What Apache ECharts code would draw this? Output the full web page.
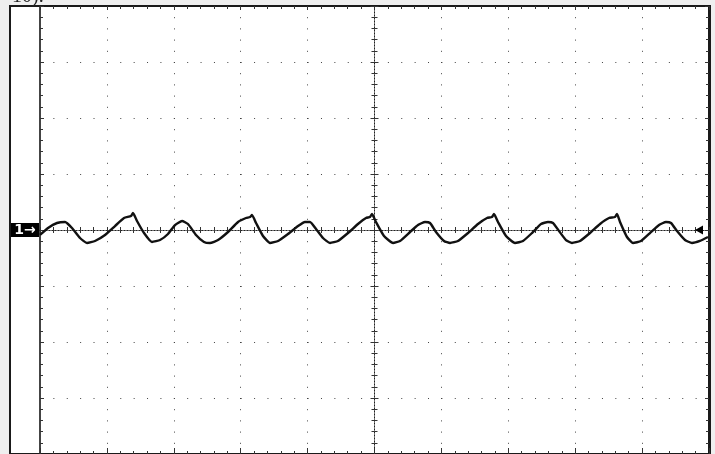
<!DOCTYPE html>
<html>
<head>
<meta charset="utf-8">
<script src="https://cdn.jsdelivr.net/npm/echarts@6/dist/echarts.min.js"></script>
<style>
html,body{margin:0;padding:0;background:#efefef;}
#chart{width:715px;height:454px;}
</style>
</head>
<body>
<div id="chart"></div>
<script>
// Time in divisions (0..10) and voltage in divisions (-4..4)
const timeDiv = [0.000,0.120,0.254,0.374,0.478,0.598,0.703,0.822,0.972,1.121,1.256,1.360,1.390,1.450,1.555,1.674,1.794,1.913,2.018,2.123,2.212,2.332,2.451,2.541,2.661,2.810,2.960,3.079,3.139,3.169,3.229,3.333,3.438,3.558,3.707,3.857,3.961,4.036,4.126,4.230,4.335,4.454,4.604,4.753,4.873,4.933,4.963,5.022,5.142,5.277,5.381,5.531,5.650,5.755,5.830,5.919,6.039,6.129,6.248,6.398,6.547,6.682,6.756,6.786,6.846,6.966,7.100,7.220,7.354,7.489,7.593,7.668,7.758,7.862,7.952,8.072,8.221,8.371,8.505,8.595,8.625,8.670,8.774,8.864,8.984,9.118,9.253,9.357,9.432,9.522,9.641,9.746,9.865,9.985];
const voltDiv = [-0.089,0.036,0.125,0.143,0.036,-0.143,-0.232,-0.196,-0.089,0.071,0.214,0.250,0.304,0.161,-0.054,-0.214,-0.179,-0.071,0.089,0.161,0.107,-0.089,-0.214,-0.232,-0.179,-0.036,0.143,0.214,0.232,0.268,0.125,-0.107,-0.232,-0.196,-0.071,0.071,0.143,0.143,0.018,-0.143,-0.232,-0.196,-0.054,0.107,0.214,0.232,0.286,0.143,-0.107,-0.232,-0.196,-0.036,0.089,0.143,0.125,-0.036,-0.196,-0.232,-0.196,-0.054,0.107,0.214,0.232,0.286,0.143,-0.107,-0.232,-0.196,-0.054,0.107,0.143,0.125,-0.018,-0.179,-0.232,-0.196,-0.054,0.107,0.214,0.232,0.286,0.143,-0.125,-0.232,-0.196,-0.054,0.089,0.143,0.125,-0.018,-0.179,-0.232,-0.196,-0.125];
const xRange = [0, 10];       // horizontal divisions
const yRange = [-4, 4];       // vertical divisions
const centerXRange = [-5, 5]; // same span, centred so the crosshair sits on zero
const groundLevel = 0;        // channel 1 reference level
const triggerLevel = 0;       // trigger marker level
const channelLabel = '1\u2192';
const captionText = '10).';

const traceData = timeDiv.map((t, i) => [t, voltDiv[i]]);

const chart = echarts.init(document.getElementById('chart'), null, {renderer: 'canvas'});
const plotRect = {left: 40, top: 6, width: 669, height: 448};
const dark = '#1a1a1a';
const tickStyle = {color: '#333', width: 1};
const hiddenAxis = (gi, range) => ({gridIndex: gi, show: false, min: range[0], max: range[1], axisLine: {onZero: false}});

const option = {
  animation: false,
  backgroundColor: '#efefef',
  graphic: [{
    type: 'text', x: 12, y: -3, silent: true,
    style: {text: captionText, fontSize: 20, fontFamily: '"Liberation Serif", serif', fill: '#222', verticalAlign: 'middle', align: 'left'}
  }],
  grid: [
    {left: 10, top: 6, right: 5, bottom: 0, show: true, backgroundColor: '#ffffff', borderColor: dark, borderWidth: 2, z: -1},
    Object.assign({}, plotRect),
    Object.assign({}, plotRect),
    Object.assign({}, plotRect),
    Object.assign({}, plotRect),
    Object.assign({}, plotRect)
  ],
  xAxis: [
    hiddenAxis(0, [0, 1]),
    {
      gridIndex: 1, type: 'value', position: 'bottom', min: xRange[0], max: xRange[1], interval: 1,
      axisLine: {show: true, onZero: false, lineStyle: {color: dark, width: 2}},
      axisTick: {show: true, inside: true, length: 6, lineStyle: tickStyle},
      minorTick: {show: true, splitNumber: 5, length: 3, lineStyle: tickStyle},
      axisLabel: {show: false},
      splitLine: {show: true, lineStyle: {color: '#444', width: 1, type: [1, 10.2]}}
    },
    {
      gridIndex: 1, type: 'value', position: 'top', min: xRange[0], max: xRange[1], interval: 1,
      axisLine: {show: true, onZero: false, lineStyle: {color: dark, width: 2}},
      axisTick: {show: true, inside: true, length: 4, lineStyle: tickStyle},
      minorTick: {show: true, splitNumber: 5, length: 3, lineStyle: tickStyle},
      axisLabel: {show: false},
      splitLine: {show: false}
    },
    hiddenAxis(2, centerXRange),
    hiddenAxis(3, centerXRange),
    {
      gridIndex: 4, type: 'value', position: 'bottom', min: xRange[0], max: xRange[1], interval: 1,
      axisLine: {show: true, onZero: true, lineStyle: {color: '#222', width: 1, type: [1, 2]}},
      axisTick: {show: true, inside: false, length: 3, lineStyle: tickStyle},
      minorTick: {show: true, splitNumber: 5, length: 3, lineStyle: tickStyle},
      axisLabel: {show: false}, splitLine: {show: false}
    },
    {
      gridIndex: 5, type: 'value', position: 'top', min: xRange[0], max: xRange[1], interval: 1,
      axisLine: {show: true, onZero: true, lineStyle: {color: '#222', width: 1, type: [1, 2]}},
      axisTick: {show: true, inside: false, length: 3, lineStyle: tickStyle},
      minorTick: {show: true, splitNumber: 5, length: 3, lineStyle: tickStyle},
      axisLabel: {show: false}, splitLine: {show: false}
    }
  ],
  yAxis: [
    hiddenAxis(0, [0, 1]),
    {
      gridIndex: 1, type: 'value', position: 'left', min: yRange[0], max: yRange[1], interval: 1,
      axisLine: {show: true, onZero: false, lineStyle: {color: '#444', width: 2}},
      axisTick: {show: true, inside: true, length: 4, lineStyle: tickStyle},
      minorTick: {show: true, splitNumber: 5, length: 3, lineStyle: tickStyle},
      axisLabel: {show: false},
      splitLine: {show: true, lineStyle: {color: '#444', width: 1, type: [1, 12.38]}}
    },
    {
      gridIndex: 1, type: 'value', position: 'right', min: yRange[0], max: yRange[1], interval: 1,
      axisLine: {show: true, onZero: false, lineStyle: {color: dark, width: 2}},
      axisTick: {show: true, inside: true, length: 4, lineStyle: tickStyle},
      minorTick: {show: true, splitNumber: 5, length: 3, lineStyle: tickStyle},
      axisLabel: {show: false}, splitLine: {show: false}
    },
    {
      gridIndex: 2, type: 'value', position: 'left', min: yRange[0], max: yRange[1], interval: 1,
      axisLine: {show: true, onZero: true, lineStyle: {color: '#222', width: 1, type: [1, 2]}},
      axisTick: {show: true, inside: false, length: 4, lineStyle: tickStyle},
      minorTick: {show: true, splitNumber: 5, length: 3, lineStyle: tickStyle},
      axisLabel: {show: false}, splitLine: {show: false}
    },
    {
      gridIndex: 3, type: 'value', position: 'right', min: yRange[0], max: yRange[1], interval: 1,
      axisLine: {show: true, onZero: true, lineStyle: {color: '#222', width: 1, type: [1, 2]}},
      axisTick: {show: true, inside: false, length: 4, lineStyle: tickStyle},
      minorTick: {show: true, splitNumber: 5, length: 3, lineStyle: tickStyle},
      axisLabel: {show: false}, splitLine: {show: false}
    },
    hiddenAxis(4, yRange),
    hiddenAxis(5, yRange)
  ],
  series: [{
    type: 'line',
    xAxisIndex: 1, yAxisIndex: 1,
    data: traceData,
    showSymbol: false,
    smooth: 0.15,
    lineStyle: {color: '#111', width: 2.4},
    z: 5,
    markPoint: {
      silent: true,
      animation: false,
      data: [
        {
          coord: [xRange[0], groundLevel], symbol: 'rect', symbolSize: [28, 14], symbolOffset: [-15, 0],
          itemStyle: {color: '#000'},
          label: {show: true, position: 'inside', formatter: channelLabel, color: '#fff', fontSize: 14, fontWeight: 'bold', fontFamily: 'DejaVu Sans'}
        },
        {
          coord: [xRange[1], triggerLevel], symbol: 'triangle', symbolSize: [9, 8], symbolRotate: 90, symbolOffset: [-10, 0],
          itemStyle: {color: '#000'}, label: {show: false}
        }
      ]
    }
  }]
};
chart.setOption(option);
</script>
</body>
</html>
